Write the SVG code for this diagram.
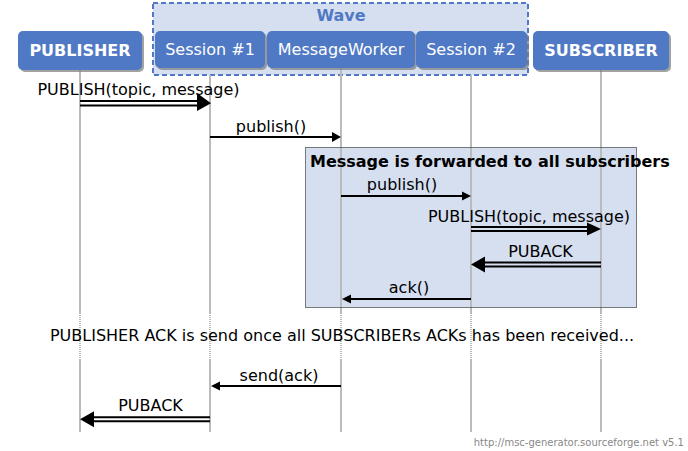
<svg xmlns="http://www.w3.org/2000/svg" width="688" height="451" viewBox="0 0 688 451">
<style>
text{font-family:"DejaVu Sans","Liberation Sans",sans-serif;}
.lbl{font-size:16px;fill:#000;text-anchor:middle;}
.ent{font-size:16px;fill:#fff;text-anchor:middle;}
.entb{font-size:16px;fill:#fff;text-anchor:middle;font-weight:bold;}
.box{fill:#4f79c4;}
.shadow{fill:#7a7a7a;opacity:0.7;}
.life{stroke:#bbbbbb;stroke-width:2;fill:none;}
.dot{stroke:#bbbbbb;stroke-width:2;fill:none;stroke-dasharray:1,1;}
.arr{stroke:#000;stroke-width:2;fill:none;}
.head{fill:#000;}
</style>
<rect width="688" height="451" fill="#ffffff"/>
<g id="wave">
<rect x="153" y="3" width="375" height="72" fill="#d6dff0" stroke="#4f79c4" stroke-width="2" stroke-dasharray="5,3"/>
<text x="341" y="21" style="font-size:16px;font-weight:bold;fill:#4f79c4;text-anchor:middle">Wave</text>
</g>
<g id="lifelines">
<path class="life" d="M80,70V313M80,360V432M210,75V313M210,360V432M341,68V313M341,360V432M471,75V313M471,360V432M601,70V313M601,360V432"/>
<path class="dot" d="M80,313V360M210,313V360M341,313V360M471,313V360M601,313V360"/>
</g>
<g id="publisher">
<rect class="shadow" x="20" y="33" width="124" height="39" rx="5"/>
<rect class="box" x="18" y="31" width="124" height="39" rx="5"/>
<text class="entb" x="80" y="56">PUBLISHER</text>
</g>
<g id="session1">
<rect class="shadow" x="157" y="33" width="110" height="37" rx="5"/>
<rect class="box" x="155" y="31" width="110" height="37" rx="5"/>
<text class="ent" x="210" y="55">Session #1</text>
</g>
<g id="messageworker">
<rect class="shadow" x="269" y="33" width="148" height="37" rx="5"/>
<rect class="box" x="267" y="31" width="148" height="37" rx="5"/>
<text class="ent" x="341" y="55">MessageWorker</text>
</g>
<g id="session2">
<rect class="shadow" x="418" y="33" width="111" height="37" rx="5"/>
<rect class="box" x="416" y="31" width="111" height="37" rx="5"/>
<text class="ent" x="471" y="55">Session #2</text>
</g>
<g id="subscriber">
<rect class="shadow" x="535" y="33" width="136" height="39" rx="5"/>
<rect class="box" x="533" y="31" width="136" height="39" rx="5"/>
<text class="entb" x="601" y="56">SUBSCRIBER</text>
</g>
<g id="forward-box">
<rect x="305.5" y="147.5" width="331" height="160" fill="#d6dff0" stroke="#000" stroke-width="1" stroke-dasharray="1,1"/>
<path class="life" d="M341,148V307M471,148V307M601,148V307"/>
<text x="310" y="167" style="font-size:16px;font-weight:bold;fill:#000">Message is forwarded to all subscribers</text>
</g>
<g id="connectors">
<path class="arr" d="M80,101H198M80,105.5H198"/>
<polygon class="head" points="197,93 211,103.25 197,111"/>
<text class="lbl" x="138.5" y="95">PUBLISH(topic, message)</text>

<path class="arr" d="M210,137H333"/>
<polygon class="head" points="332,132 341,137 332,142"/>
<text class="lbl" x="271" y="132">publish()</text>

<path class="arr" d="M341,196H463"/>
<polygon class="head" points="462,191.5 471,196 462,200.5"/>
<text class="lbl" x="402" y="190">publish()</text>

<path class="arr" d="M471,227H588M471,231H588"/>
<polygon class="head" points="587,222.5 601,229 587,235.5"/>
<text class="lbl" x="529" y="222">PUBLISH(topic, message)</text>

<path class="arr" d="M601,262.5H484M601,266.5H484"/>
<polygon class="head" points="485,256.5 471,264.5 485,272.5"/>
<text class="lbl" x="540.5" y="257">PUBACK</text>

<path class="arr" d="M471,299H350"/>
<polygon class="head" points="351,294.5 342,299 351,303.5"/>
<text class="lbl" x="409" y="293">ack()</text>

<text class="lbl" x="342" y="341">PUBLISHER ACK is send once all SUBSCRIBERs ACKs has been received...</text>

<path class="arr" d="M341,386H219"/>
<polygon class="head" points="220,381.5 211,386 220,390.5"/>
<text class="lbl" x="279" y="381">send(ack)</text>

<path class="arr" d="M210,417.3H93M210,421.3H93"/>
<polygon class="head" points="94,411.3 80,419.3 94,427.3"/>
<text class="lbl" x="150.5" y="411">PUBACK</text>
</g>
<text x="684" y="446" style="font-size:10px;fill:#888;text-anchor:end">http://msc-generator.sourceforge.net v5.1</text>
</svg>
